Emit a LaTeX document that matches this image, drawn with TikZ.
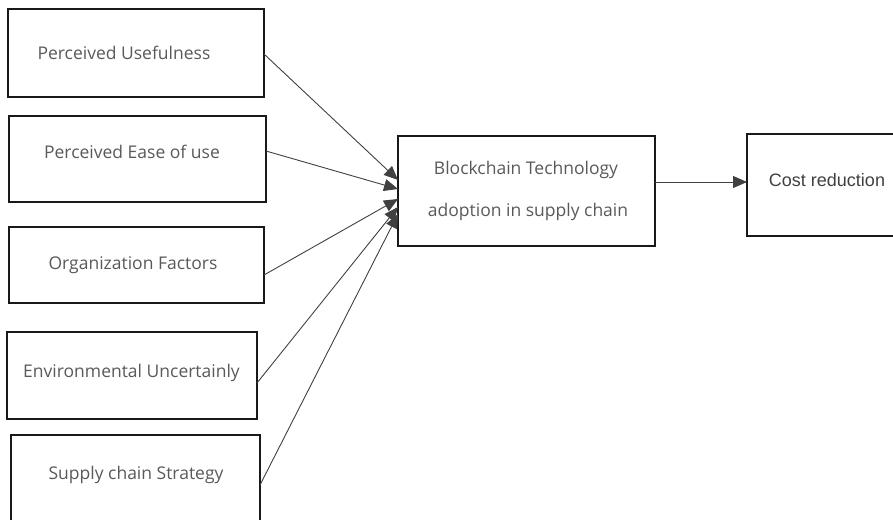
\documentclass[tikz,border=0pt]{standalone}
\usepackage{fontspec}
\newfontfamily\lblfont{Open Sans}
\setmainfont{Liberation Sans}
\usetikzlibrary{arrows.meta}
\tikzset{
  box/.style={draw=black!90, line width=1.6pt, inner sep=0pt, anchor=center},
  lbl/.style={inner sep=0pt, text=black!65, font=\lblfont\fontsize{17.5}{20}\selectfont},
  link/.style={draw=black!75, line width=0.9pt, -{Triangle[length=14pt,width=12pt]}},
}
\begin{document}
\begin{tikzpicture}[x=1pt,y=-1pt]
\useasboundingbox (0,0) rectangle (893,519);
\clip (0,0) rectangle (893,519);
% boxes
\node[box, minimum width=256pt, minimum height=88pt] (b1) at (136,53) {};
\node[box, minimum width=257pt, minimum height=86pt] (b2) at (137.5,159) {};
\node[box, minimum width=255pt, minimum height=76pt] (b3) at (136.5,265) {};
\node[box, minimum width=250pt, minimum height=87pt] (b4) at (132,375.5) {};
\node[box, minimum width=249pt, minimum height=95pt] (b5) at (135.5,482.5) {};
\node[box, minimum width=257pt, minimum height=110pt] (bc) at (526.5,191) {};
\node[box, minimum width=152pt, minimum height=102pt] (cr) at (823,185) {};
% labels
\node[lbl] (t1) at (124,53) {Perceived Usefulness};
\node[lbl] (t2) at (132,152) {Perceived Ease of use};
\node[lbl] (t3) at (133,265) {Organization Factors};
\node[lbl] (t4) at (131.5,373) {Environmental Uncertainly};
\node[lbl] (t5) at (136,475) {Supply chain Strategy};
\node[lbl] (tc1) at (526,170) {Blockchain Technology};
\node[lbl] (tc2) at (528,212) {adoption in supply chain};
\node[inner sep=0pt, text=black!75, font=\fontsize{18}{20}\selectfont] (tcr) at (827,180) {Cost reduction};
% anchor points
\coordinate (s1) at (264,54);
\coordinate (s2) at (266,151);
\coordinate (s3) at (264,275);
\coordinate (s4) at (257,383);
\coordinate (s5) at (260,485);
\coordinate (e1) at (398,180);
\coordinate (e2) at (398,189);
\coordinate (e3) at (398,199);
\coordinate (e4) at (398,207);
\coordinate (e5) at (398,214);
\coordinate (sc) at (655,182);
\coordinate (ec) at (747,182);
\draw[link] (s1) -- (e1);
\draw[link] (s2) -- (e2);
\draw[link] (s3) -- (e3);
\draw[link] (s4) -- (e4);
\draw[link] (s5) -- (e5);
\draw[link] (sc) -- (ec);
\end{tikzpicture}
\end{document}
